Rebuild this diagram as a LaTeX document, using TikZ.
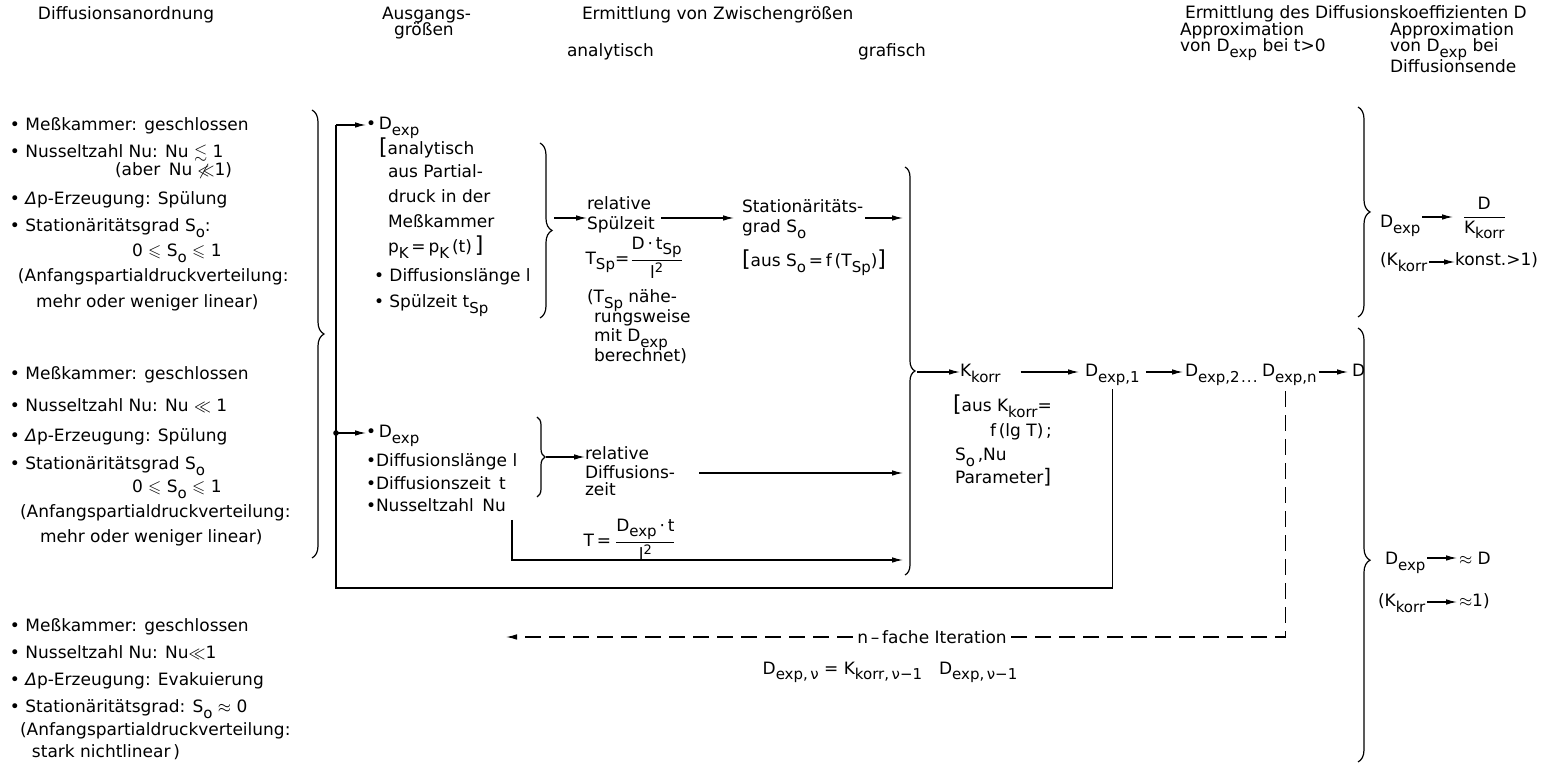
\documentclass[tikz,border=0pt]{standalone}
\usepackage{amsmath,amssymb}
\usepackage{fontspec}
\setmainfont{DejaVu Sans}
\usetikzlibrary{arrows.meta,decorations.pathreplacing}
\newcommand\dsub[1]{\raisebox{-0.55ex}{\fontsize{7.5}{8}\selectfont #1}}
\newcommand\dsup[1]{\raisebox{0.7ex}{\fontsize{6.5}{7}\selectfont #1}}
\begin{document}
\begin{tikzpicture}[x=0.5pt,y=-0.5pt,line width=0.6pt,
  font=\fontsize{8.5}{10}\selectfont,
  txt/.style={anchor=base west,inner sep=0pt,outer sep=0pt},
  arr/.style={-{Latex[length=5.5pt,width=2.8pt]}},
  brc/.style={decorate,decoration={brace,amplitude=#1}},
  brc/.default=6pt]
\useasboundingbox (0,0) rectangle (1555,769);
% headers
\node[txt] (h1) at (38,20) {Diffusionsanordnung};
\node[txt] (h2) at (382,20) {Ausgangs-};
\node[txt] (h3) at (394,36) {größen};
\node[txt] (h4) at (582,20) {Ermittlung von Zwischengrößen};
\node[txt] (h5) at (567,57) {analytisch};
\node[txt] (h6) at (858,57) {grafisch};
\node[txt] (h7) at (1185,19) {Ermittlung des Diffusionskoeffizienten D};
\node[txt] (h8) at (1180,36) {Approximation};
\node[txt] (h9) at (1180,52) {von D\dsub{exp} bei t>0};
\node[txt] (h10) at (1390,36) {Approximation};
\node[txt] (h11) at (1390,52) {von D\dsub{exp} bei};
\node[txt] (h12) at (1390,73) {Diffusionsende};
% left group 1
\node[txt] (a1) at (10,131) {• Meßkammer: geschlossen};
\node[txt] (a2) at (10,158) {• Nusseltzahl Nu: Nu $\lesssim$ 1};
\node[txt] (a3) at (115,176) {(aber\enspace Nu $\not\ll$1)};
\node[txt] (a4) at (10,205) {• \textit{Δ}p-Erzeugung: Spülung};
\node[txt] (a5) at (10,232) {• Stationäritätsgrad S\dsub{o}:};
\node[txt] (a6) at (132,257) {0 $\leqslant$ S\dsub{o} $\leqslant$ 1};
\node[txt] (a7) at (18,282) {(Anfangspartialdruckverteilung:};
\node[txt] (a8) at (36,308) {mehr oder weniger linear)};
% left group 2
\node[txt] (b1) at (10,380) {• Meßkammer: geschlossen};
\node[txt] (b2) at (10,412) {• Nusseltzahl Nu: Nu $\ll$ 1};
\node[txt] (b3) at (10,442) {• \textit{Δ}p-Erzeugung: Spülung};
\node[txt] (b4) at (10,470) {• Stationäritätsgrad S\dsub{o}};
\node[txt] (b5) at (132,493) {0 $\leqslant$ S\dsub{o} $\leqslant$ 1};
\node[txt] (b6) at (20,518) {(Anfangspartialdruckverteilung:};
\node[txt] (b7) at (40,543) {mehr oder weniger linear)};
% left group 3
\node[txt] (c1) at (10,632) {• Meßkammer: geschlossen};
\node[txt] (c2) at (10,659) {• Nusseltzahl Nu: Nu$\ll$1};
\node[txt] (c3) at (10,686) {• \textit{Δ}p-Erzeugung: Evakuierung};
\node[txt] (c4) at (10,713) {• Stationäritätsgrad: S\dsub{o} $\approx$ 0};
\node[txt] (c5) at (20,736) {(Anfangspartialdruckverteilung:};
\node[txt] (c6) at (32,758) {stark nichtlinear\,)};
% left brace
\draw[brc] (312,110) -- (312,558);
% loop
\coordinate (L1) at (336,125);
\coordinate (J) at (336,433);
\node[txt] (dA) at (366,130) {•\,D\dsub{exp}};
\node[txt] (m1) at (379,155) {{\fontsize{11}{11}\selectfont[}analytisch};
\node[txt] (m2) at (388,178) {aus Partial-};
\node[txt] (m3) at (388,203) {druck in der};
\node[txt] (m4) at (388,228) {Meßkammer};
\node[txt] (m5) at (388,253) {p\dsub{K}\,=\,p\dsub{K}\,(t)\,{\fontsize{11}{11}\selectfont]}};
\node[txt] (m6) at (374,282) {• Diffusionslänge l};
\node[txt] (m7) at (374,308) {• Spülzeit t\dsub{Sp}};
\draw[brc] (540,143) -- (540,318);
\coordinate (ub1t) at (554,218);
\node[txt] (r1) at (587,210) {relative};
\node[txt] (r2) at (587,230) {Spülzeit};
\node[anchor=west,inner sep=0pt] (f1) at (585,258) {T\dsub{Sp}=$\dfrac{\text{D\,·\,t\dsub{Sp}}}{\text{l\dsup{2}}}$};
\node[txt] (n1) at (587,303) {(T\dsub{Sp} nähe-};
\node[txt] (n2) at (594,323) {rungsweise};
\node[txt] (n3) at (594,342) {mit D\dsub{exp}};
\node[txt] (n4) at (594,362) {berechnet)};
\node[txt] (s1) at (742,213) {Stationäritäts-};
\node[txt] (s2) at (742,233) {grad S\dsub{o}};
\node[txt] (s3) at (742,267) {{\fontsize{11}{11}\selectfont[}aus S\dsub{o}\,=\,f\,(T\dsub{Sp}){\fontsize{11}{11}\selectfont]}};
\draw[brc=5pt] (905,167) -- (905,575);
\coordinate (mbt) at (917,372);
\coordinate (mbx) at (903,0);
\draw[arr] (ub1t) -- (ub1t -| r1.west);
\draw[arr] ([xshift=5pt]r1.east |- ub1t) -- ([xshift=-4pt]s1.west |- ub1t);
\draw[arr] ([xshift=1pt]s1.east |- ub1t) -- (mbx |- ub1t);
% lower group
\node[txt] (e1) at (366,438) {•\,D\dsub{exp}};
\node[txt] (e2) at (366,467) {•Diffusionslänge l};
\node[txt] (e3) at (366,490) {•Diffusionszeit\enspace t};
\node[txt] (e4) at (366,512) {•Nusseltzahl\enspace Nu};
\draw[brc=4pt] (537,417) -- (537,497);
\coordinate (lbt) at (546,457);
\node[txt] (q1) at (585,460) {relative};
\node[txt] (q2) at (585,479) {Diffusions-};
\node[txt] (q3) at (585,496) {zeit};
\node[anchor=west,inner sep=0pt] (f2) at (583,540) {T\,=\,$\dfrac{\text{D\dsub{exp}\,·\,t}}{\text{l\dsup{2}}}$};
\coordinate (qs) at (699,473);
\coordinate (nu0) at (512,520);
\coordinate (nu1) at (903,560);
\draw[arr] (lbt) -- (lbt -| q1.west);
\draw[arr] (qs) -- (qs -| mbx);
\draw[arr] (nu0) |- (nu1);
% loop lines
\draw[arr] (L1) -- (L1 -| dA.west);
\draw[arr] (J) -- (J -| e1.west);
\fill (J) circle (1.4pt);
% right chain
\node[txt] (k1) at (960,377) {K\dsub{korr}};
\node[txt] (k2) at (953,412) {{\fontsize{11}{11}\selectfont[}aus K\dsub{korr}=};
\node[txt] (k3) at (990,437) {f\,(lg T)\,;};
\node[txt] (k4) at (955,461) {S\dsub{o}\,,Nu};
\node[txt] (k5) at (955,484) {Parameter{\fontsize{10}{10}\selectfont]}};
\node[txt] (d1) at (1085,377) {D\dsub{exp,1}};
\node[txt] (d2) at (1185,377) {D\dsub{exp,2}};
\node[txt] (dd) at (1241,377) {\dsub{.\kern0.6pt.\kern0.6pt.}};
\node[txt] (dn) at (1262,377) {D\dsub{exp,n}};
\node[txt] (dD) at (1352,377) {D};
\draw[arr] (mbt) -- (mbt -| k1.west);
\draw[arr] ([xshift=10pt]k1.east |- mbt) -- ([xshift=-3pt]d1.west |- mbt);
\draw[arr] ([xshift=3pt]d1.east |- mbt) -- ([xshift=-1pt]d2.west |- mbt);
\draw[arr] ([xshift=1pt]dn.east |- mbt) -- ([xshift=-2pt]dD.west |- mbt);
\coordinate (L2) at (336,588);
\draw (L1) -- (L2) -- (d1.south |- L2) -- ([yshift=-2pt]d1.south);
\coordinate (it0) at (506,637);
\node[fill=white,inner sep=2pt] (it) at (932,637) {n\,–\,fache Iteration};
\draw[dashed,dash pattern=on 8pt off 4pt] ([xshift=-2pt,yshift=-3pt]dn.south) -- ([xshift=-2pt]dn.south |- it0) -- (it.east);
\draw[arr,dashed,dash pattern=on 8pt off 4pt] (it.west) -- (it0);
\node (it2) at (890,672) {D\dsub{exp,\,ν} = K\dsub{korr,\,ν−1}\quad D\dsub{exp,\,ν−1}};
% right braces
\draw[brc] (1358,107) -- (1358,317);
\draw[brc,decoration={aspect=0.535}] (1358,328) -- (1358,762);
\node[txt] (x1) at (1380,228) {D\dsub{exp}};
\node[anchor=west,inner sep=0pt] (x2) at (1461,218) {$\dfrac{\text{D}}{\text{K\dsub{korr}}}$};
\draw[arr] ([xshift=1pt]x1.east |- 0,217) -- ([xshift=-4pt]x2.west |- 0,217);
\node[txt] (x3) at (1380,266) {(K\dsub{korr}};
\node[txt] (x4) at (1455,266) {konst.>1)};
\draw[arr] ([xshift=1pt]x3.east |- 0,262) -- (x4.west |- 0,262);
\node[txt] (y1) at (1385,565) {D\dsub{exp}};
\node[txt] (y2) at (1459,565) {$\approx$ D};
\draw[arr] ([xshift=1pt]y1.east |- 0,558) -- ([xshift=-1pt]y2.west |- 0,558);
\node[txt] (y3) at (1378,607) {(K\dsub{korr}};
\node[txt] (y4) at (1459,607) {$\approx$1)};
\draw[arr] ([xshift=1pt]y3.east |- 0,602) -- ([xshift=-1pt]y4.west |- 0,602);
\end{tikzpicture}
\end{document}
